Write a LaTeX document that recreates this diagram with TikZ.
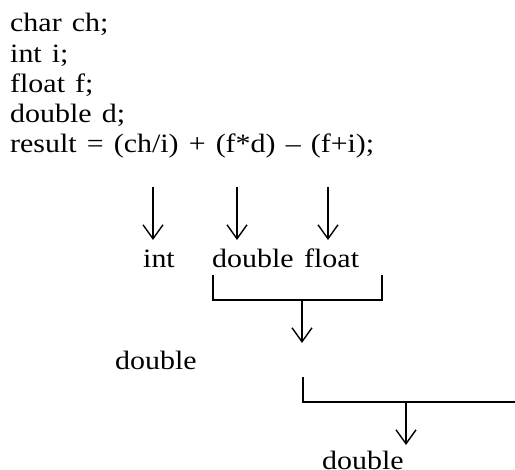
\documentclass[tikz,border=0pt]{standalone}
\usepackage{fontspec}
\setmainfont{Liberation Serif}[FakeStretch=1.13,WordSpace=1.35]
\usetikzlibrary{arrows.meta}

\begin{document}
\begin{tikzpicture}
[x=1pt,y=-1pt,%
  lineDecorate/.style={line width=1.4pt},%
  arrowDecorate/.style={lineDecorate,-{Straight Barb[length=14pt,width=20pt,line width=1.4pt]}},%
  textDecorate/.style={anchor=base west,inner sep=0pt,font=\fontsize{26.5}{30}\selectfont}]
\useasboundingbox (0,0) rectangle (515,470);
%% declarations and the expression
\foreach \nodename/\y/\code in {
  lineA/32/{char ch;}, lineB/63/{int i;}, lineC/93/{float f;},
  lineD/123/{double d;}, lineE/153/{result = (ch/i) + (f*d) – (f+i);}}
{
  \node[textDecorate] (\nodename) at (10,\y) {\code};
}
%% type labels
\foreach \nodename/\x/\y/\type in {
  tInt/143/268/int, tDouble/212/268/double, tFloat/304/268/float,
  tSum/115/370/double, tResult/322/470/double}
{
  \node[textDecorate] (\nodename) at (\x,\y) {\type};
}
%% arrows from the sub-expressions
\foreach \nodename/\x in {ci/153, fd/237, fi/328}
{
  \coordinate (\nodename) at (\x,187);
  \coordinate (\nodename tip) at (\x,240);
  \draw[arrowDecorate] (\nodename) -- (\nodename tip);
}
%% brackets joining the types
\coordinate (bA1) at (213,275);
\coordinate (bA2) at (213,300);
\coordinate (bA3) at (382,300);
\coordinate (bA4) at (382,275);
\coordinate (sA) at (302,300);
\coordinate (sAtip) at (302,343);
\draw[lineDecorate] (bA1) -- (bA2) -- (bA3) -- (bA4);
\draw[arrowDecorate] (sA) -- (sAtip);
\coordinate (bB1) at (303,377);
\coordinate (bB2) at (303,402);
\coordinate (bB3) at (515,402);
\coordinate (sB) at (406,402);
\coordinate (sBtip) at (406,445);
\draw[lineDecorate] (bB1) -- (bB2) -- (bB3);
\draw[arrowDecorate] (sB) -- (sBtip);
\end{tikzpicture}
\end{document}
